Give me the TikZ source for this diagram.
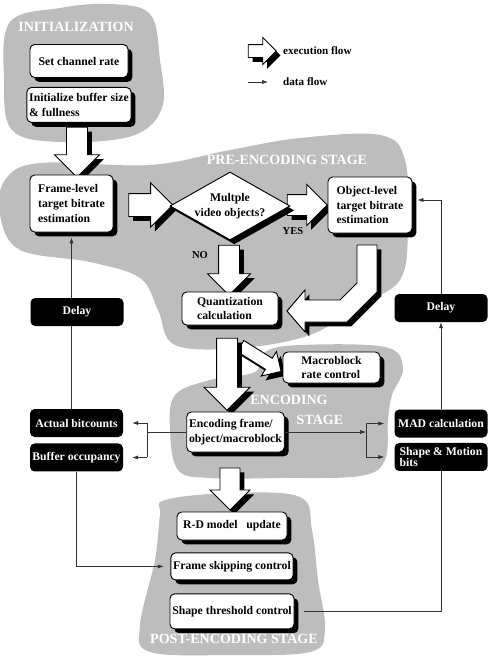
\documentclass[tikz,border=0pt]{standalone}
\usepackage{fontspec}
\setmainfont{Liberation Serif}
\newcommand*{\pxu}{0.03cm}
\usetikzlibrary{arrows.meta, positioning, shapes.geometric, shapes.arrows, shadows}
\tikzstyle{stage} = [fill=black!26]
\tikzstyle{stagetext} = [text=white, font=\bfseries\fontsize{12}{12}\selectfont, inner sep=0pt]
\tikzstyle{boxshadow} = [drop shadow={shadow xshift=0.13cm, shadow yshift=-0.13cm, fill=black, opacity=1}]
\tikzstyle{block} = [rectangle, rounded corners=4pt, font=\bfseries\fontsize{10}{12.5}\selectfont, align=left, inner xsep=2pt, inner ysep=1pt]
\tikzstyle{process} = [block, draw, thick, fill=white, boxshadow]
\tikzstyle{memory} = [block, fill=black, text=white, minimum width=93*\pxu, minimum height=28*\pxu]
\tikzstyle{exec} = [single arrow, draw, thick, fill=white, inner sep=0.3cm, boxshadow]
\tikzstyle{flowtag} = [font=\bfseries\fontsize{9}{9}\selectfont, inner sep=0pt]
\tikzstyle{legendtext} = [font=\bfseries\fontsize{9.5}{9.5}\selectfont, inner sep=0pt]
\tikzstyle{datapath} = [-{Latex[length=5pt, width=3.5pt]}, black!80, line width=0.5pt]
\tikzstyle{dataline} = [black!80, line width=0.5pt]

\begin{document}
\begin{tikzpicture}[x=0.03cm, y=-0.03cm]
    \useasboundingbox (0,0) rectangle (498,658);

    % Stages.
    \fill [stage] plot [smooth cycle, tension=0.6] coordinates {(10,22) (60,8) (110,4) (150,14) (160,60) (162,108) (132,136) (60,142) (12,130) (4,80)};
    \fill [stage] plot [smooth cycle, tension=0.6] coordinates {(5,180) (40,163) (150,165) (230,150) (300,138) (380,135) (405,160) (408,230) (400,280) (360,305) (310,335) (240,348) (175,345) (158,310) (140,278) (90,262) (20,250) (0,215)};
    \fill [stage] plot [smooth cycle, tension=0.6] coordinates {(175,395) (210,380) (255,372) (265,352) (300,345) (385,347) (403,368) (392,395) (388,420) (385,460) (360,476) (280,478) (210,478) (178,470) (170,430)};
    \fill [stage] plot [smooth cycle, tension=0.6] coordinates {(165,500) (230,493) (300,497) (312,530) (318,580) (325,630) (310,652) (230,655) (150,652) (140,625) (155,560) (160,515)};

    \node (initlabel) [stagetext] at (76,27) {INITIALIZATION};
    \node (prelabel) [stagetext] at (287,160) {PRE-ENCODING STAGE};
    \node (enclabel) [stagetext] at (289,400) {ENCODING};
    \node (stagelabel) [stagetext] at (320,420) {STAGE};
    \node (postlabel) [stagetext] at (234,639) {POST-ENCODING STAGE};

    % Legend.
    \node (legflow) [exec, inner sep=0.18cm, minimum height=28*\pxu, minimum width=26*\pxu, single arrow head extend=0.21cm] at (259,51) {};
    \node (legexec) [legendtext, anchor=west] at (283,51) {execution flow};
    \coordinate (legtail) at (248,82);
    \coordinate (leghead) at (268,82);
    \draw [datapath] (legtail) -- (leghead);
    \node (legdata) [legendtext, anchor=west] at (283,82) {data flow};

    % Execution flow.
    \node (initflow) [exec, shape border rotate=270, minimum height=1.5cm, minimum width=1.32cm, single arrow head extend=0.36cm] at (77,147) {};
    \node (frameflow) [exec, inner sep=0.33cm, minimum height=1.32cm, minimum width=1.29cm, single arrow head extend=0.32cm] at (145,205) {};
    \node (yesflow) [exec, minimum height=1.2cm, minimum width=1.2cm, single arrow head extend=0.3cm] at (302,205) {};
    \node (noflow) [exec, shape border rotate=270, minimum height=1.5cm, minimum width=1.26cm, single arrow head extend=0.33cm] at (229,265) {};
    \filldraw [fill=white, draw=black, thick, boxshadow] (357,245) -- (377,245) -- (377,292) -- (347,322) -- (305,322) -- (305,332) -- (287,311) -- (305,290) -- (305,300) -- (340,300) -- (357,283) -- cycle;
    \node (macroflow) [exec, inner sep=0.18cm, rotate=-32, minimum height=1.44cm, minimum width=0.84cm, single arrow head extend=0.24cm] at (258,357) {};
    \node (quantflow) [exec, shape border rotate=270, minimum height=2.16cm, minimum width=1.35cm, single arrow head extend=0.375cm] at (227,369) {};
    \node (encflow) [exec, inner sep=0.285cm, shape border rotate=270, minimum height=1.26cm, minimum width=1.2cm, single arrow head extend=0.3cm] at (230,484) {};
    \node (yes) [flowtag] at (293,231) {YES};
    \node (no) [flowtag] at (200,255) {NO};

    % Blocks.
    \node (setrate) [process, minimum width=98*\pxu, minimum height=33*\pxu] at (79,61) {Set channel rate};
    \node (initbuf) [process, minimum width=98*\pxu, minimum height=35*\pxu, below=0.27cm of setrate] {Initialize buffer size\\\& fullness};
    \node (frame) [process, minimum width=83*\pxu, minimum height=57*\pxu] at (71.5,203.5) {Frame-level\\target bitrate\\estimation};
    \node (multi) [diamond, draw, thick, fill=white, boxshadow, aspect=1.8, inner sep=0pt, minimum width=120*\pxu, minimum height=68*\pxu, align=center, font=\bfseries\fontsize{10}{12.5}\selectfont] at (230,206) {Multple\\video objects?};
    \node (object) [process, minimum width=84*\pxu, minimum height=56*\pxu] at (370,205) {Object-level\\target bitrate\\estimation};
    \node (quant) [process, minimum width=96*\pxu, minimum height=33*\pxu] at (230,308.5) {Quantization\\calculation};
    \node (macro) [process, minimum width=97*\pxu, minimum height=31*\pxu] at (331.5,367.5) {Macroblock\\rate control};
    \node (encode) [process, minimum width=95*\pxu, minimum height=40*\pxu] at (235.5,432) {Encoding frame/\\object/macroblock};
    \node (rdmodel) [process, minimum width=110*\pxu, minimum height=28*\pxu] at (232,526) {R-D model\ \ \ update};
    \node (skip) [process, minimum width=110*\pxu, minimum height=27*\pxu, below=0.36cm of rdmodel] {Frame skipping control};
    \node (threshold) [process, minimum width=110*\pxu, minimum height=35*\pxu, below=0.39cm of skip] {Shape threshold control};

    \node (delayl) [memory] at (77,312) {Delay};
    \node (delayr) [memory] at (441,308) {Delay};
    \node (bitcount) [memory] at (76.5,423) {Actual bitcounts};
    \node (bufocc) [memory, below=0.18cm of bitcount] {Buffer occupancy};
    \node (mad) [memory] at (441,423.5) {MAD calculation};
    \node (shapebits) [memory, font=\bfseries\fontsize{10}{9}\selectfont, below=0.15cm of mad] {Shape \& Motion\\bits};

    % Data flow.
    \draw [datapath, shorten >=0.15cm] (frame.south |- delayl.north) -- (frame.south);
    \draw [dataline] (bitcount.north -| frame.south) -- (delayl.south -| frame.south);
    \draw [datapath] (mad.north -| delayr.south) -- (delayr.south);
    \draw [datapath] (delayr.north) |- ([xshift=0.15cm, yshift=0.15cm]object.east);

    \coordinate (splitr) at (366,432);
    \draw [datapath] (encode.east) -- (splitr);
    \draw [dataline] (splitr |- mad.west) -- (splitr |- shapebits.west);
    \draw [datapath] (splitr |- mad.west) -- ([xshift=-0.3cm]mad.west);
    \draw [datapath] (splitr |- shapebits.west) -- ([xshift=-0.3cm]shapebits.west);

    \coordinate (splitl) at (147,432);
    \draw [dataline] (encode.west) -- (splitl);
    \draw [dataline] (splitl |- bitcount.east) -- (splitl |- bufocc.east);
    \draw [datapath] (splitl |- bitcount.east) -- ([xshift=0.27cm]bitcount.east);
    \draw [datapath] (splitl |- bufocc.east) -- ([xshift=0.27cm]bufocc.east);

    \draw [datapath] (bufocc.south) |- ([xshift=-0.2cm]skip.west);
    \draw [dataline] ([xshift=0.3cm]threshold.east) -| (shapebits.south);
\end{tikzpicture}
\end{document}
